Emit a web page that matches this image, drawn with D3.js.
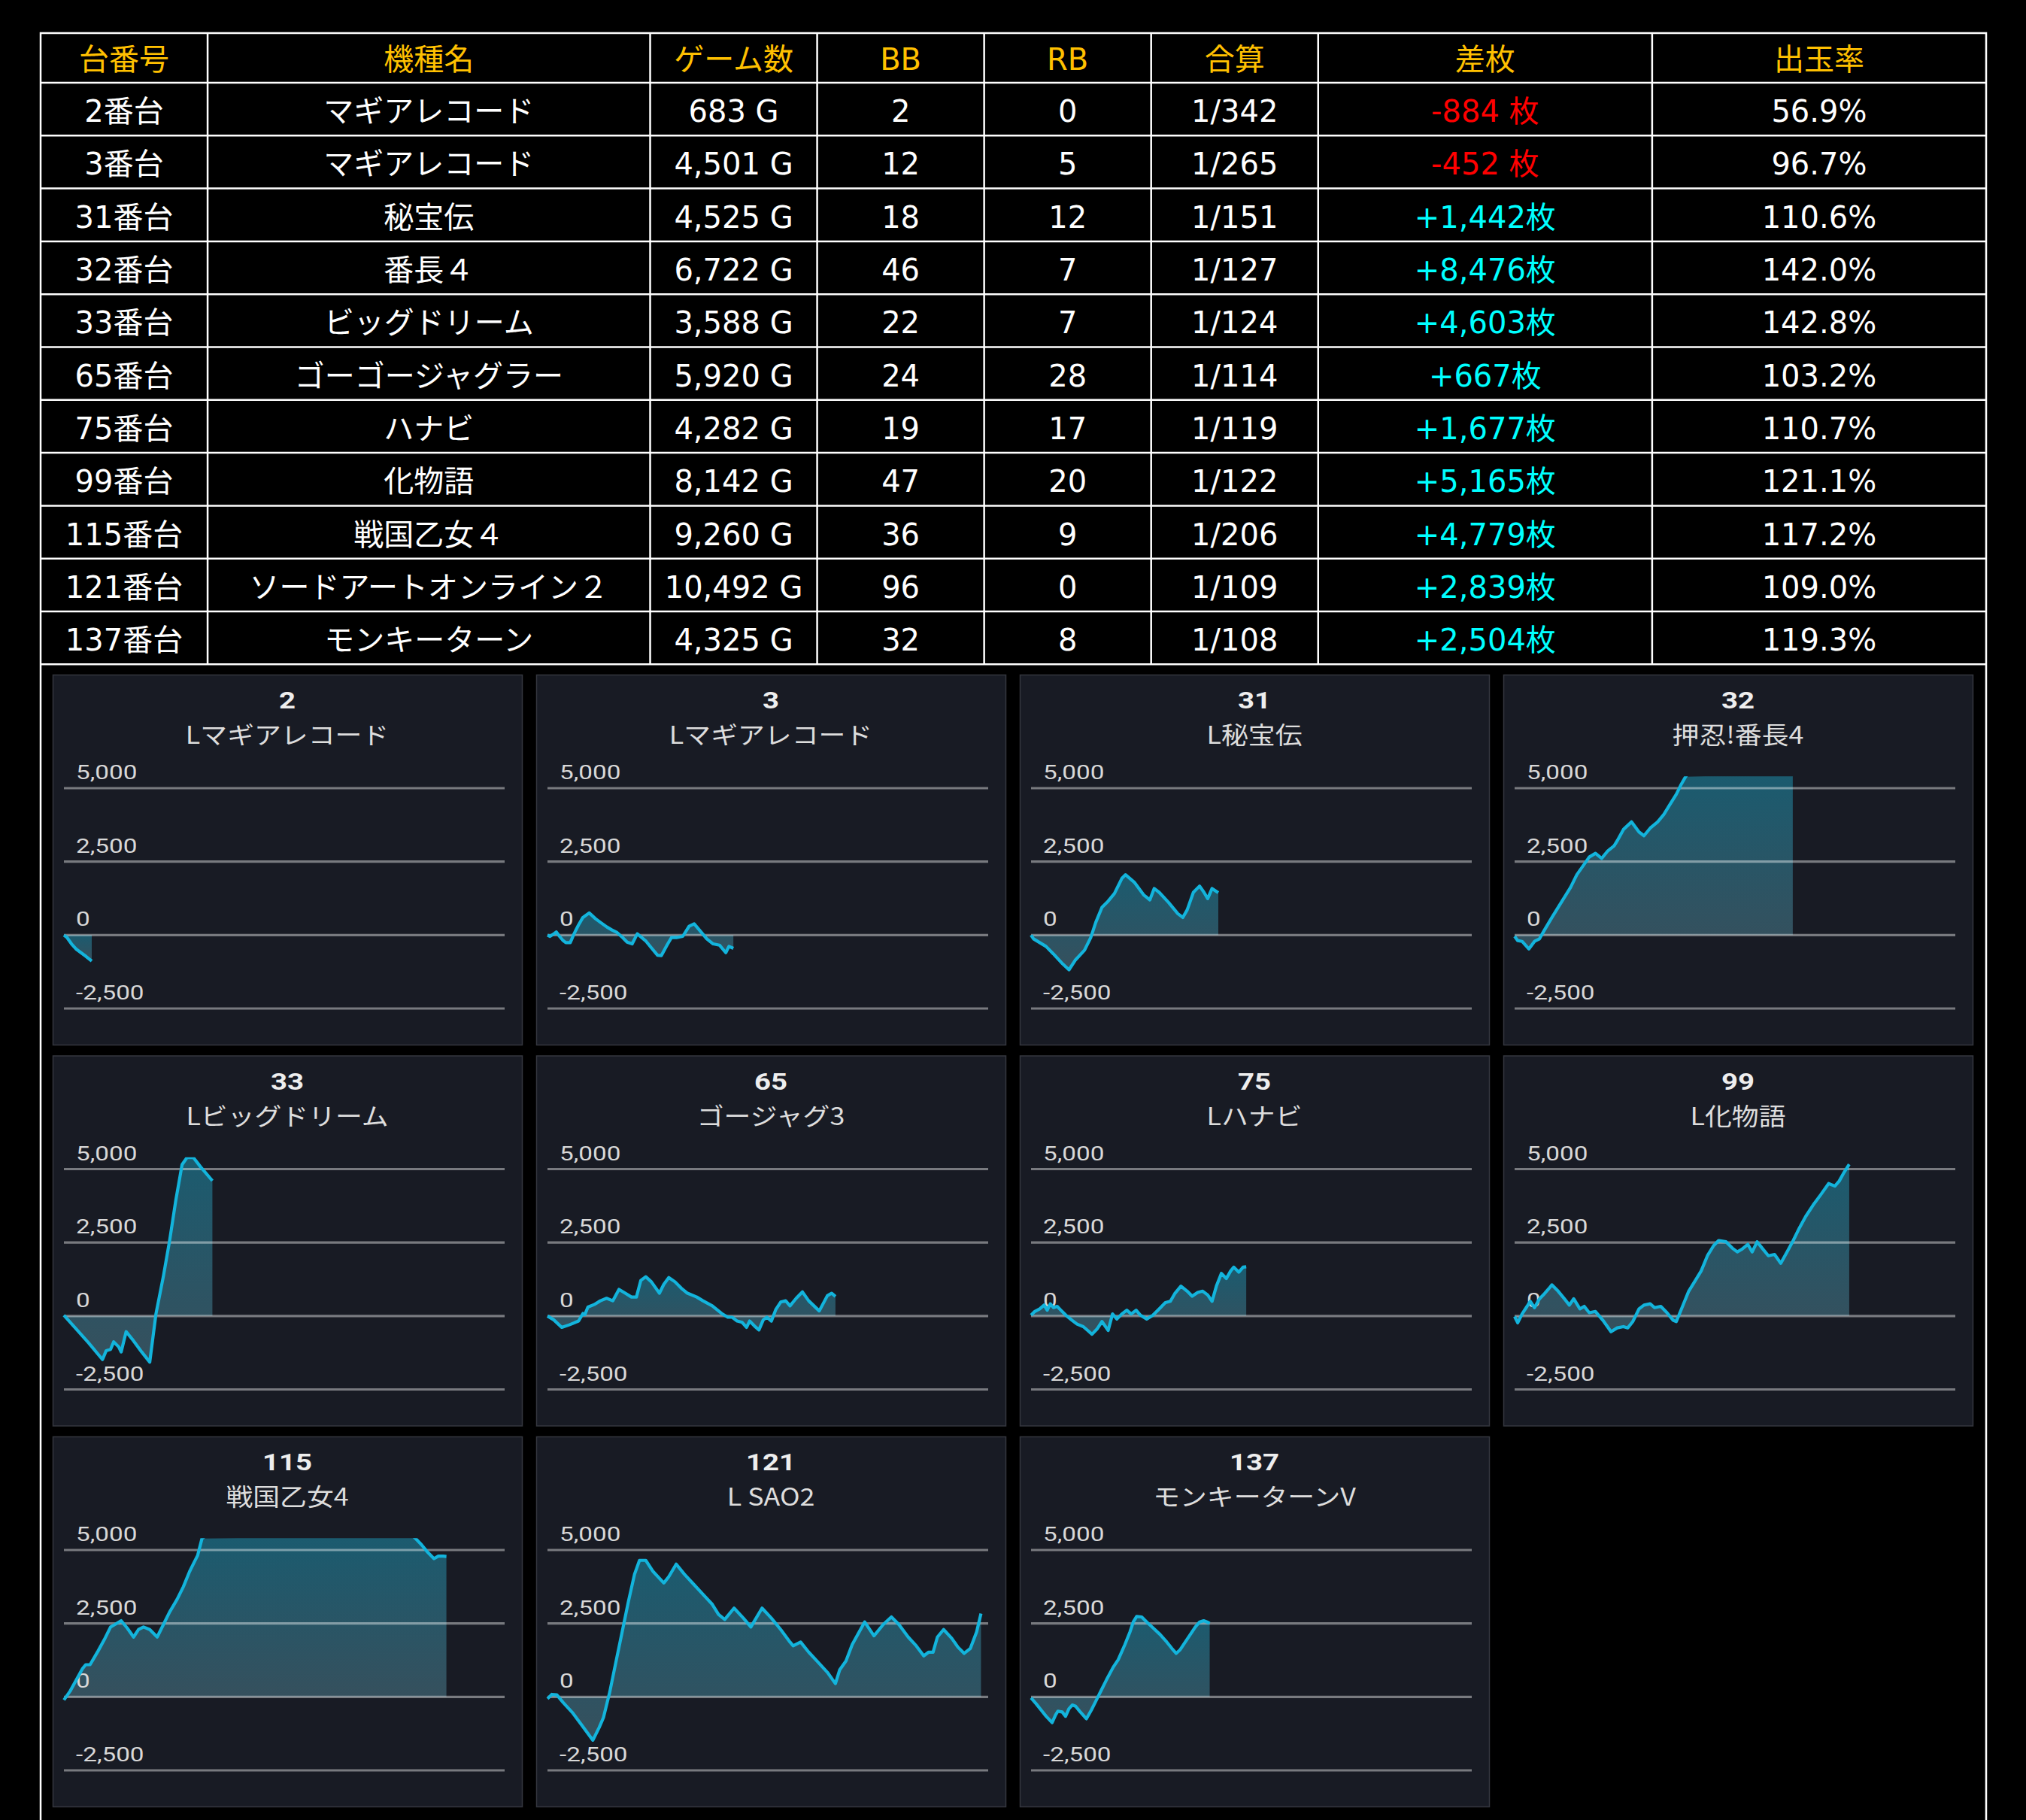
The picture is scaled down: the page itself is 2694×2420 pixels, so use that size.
<!DOCTYPE html>
<html>
<head>
<meta charset="utf-8">
<script src="https://cdn.jsdelivr.net/npm/d3@7"></script>
<style>
  html, body { margin: 0; padding: 0; background: #000; }
  svg { display: block; }
</style>
</head>
<body>
<div id="chart"></div>
<script>
// table data
const headers = ["台番号", "機種名", "ゲーム数", "BB", "RB", "合算", "差枚", "出玉率"];
const machineNo = ["2番台", "3番台", "31番台", "32番台", "33番台", "65番台", "75番台", "99番台", "115番台", "121番台", "137番台"];
const machineName = ["マギアレコード", "マギアレコード", "秘宝伝", "番長４", "ビッグドリーム", "ゴーゴージャグラー", "ハナビ", "化物語", "戦国乙女４", "ソードアートオンライン２", "モンキーターン"];
const games = ["683 G", "4,501 G", "4,525 G", "6,722 G", "3,588 G", "5,920 G", "4,282 G", "8,142 G", "9,260 G", "10,492 G", "4,325 G"];
const bb = [2, 12, 18, 46, 22, 24, 19, 47, 36, 96, 32];
const rb = [0, 5, 12, 7, 7, 28, 17, 20, 9, 0, 8];
const combined = ["1/342", "1/265", "1/151", "1/127", "1/124", "1/114", "1/119", "1/122", "1/206", "1/109", "1/108"];
const diff = ["-884 枚", "-452 枚", "+1,442枚", "+8,476枚", "+4,603枚", "+667枚", "+1,677枚", "+5,165枚", "+4,779枚", "+2,839枚", "+2,504枚"];
const payout = ["56.9%", "96.7%", "110.6%", "142.0%", "142.8%", "103.2%", "110.7%", "121.1%", "117.2%", "109.0%", "119.3%"];

// panel data
const panelIds = ["2", "3", "31", "32", "33", "65", "75", "99", "115", "121", "137"];
const panelNames = ["Lマギアレコード", "Lマギアレコード", "L秘宝伝", "押忍!番長4", "Lビッグドリーム", "ゴージャグ3", "Lハナビ", "L化物語", "戦国乙女4", "L SAO2", "モンキーターンV"];
const yTicks = [5000, 2500, 0, -2500];

// [game, 差枚]
const s2 = [[0,0],[76,-86],[183,-300],[290,-471],[412,-599],[535,-728],[672,-884]];
const s3 = [[0,0],[61,-43],[153,43],[214,103],[290,-43],[367,-171],[443,-257],[550,-257],[642,43],[749,342],[856,599],[1008,753],[1161,556],[1284,428],[1436,274],[1559,171],[1681,86],[1818,-86],[1925,-240],[2047,-300],[2170,43],[2277,-86],[2384,-214],[2506,-428],[2659,-685],[2750,-702],[2888,-342],[2995,-86],[3117,-86],[3270,-43],[3422,300],[3545,385],[3698,128],[3850,-128],[4003,-300],[4156,-342],[4309,-599],[4385,-385],[4492,-452]];
const s31 = [[0,0],[60,-128],[210,-257],[361,-385],[541,-642],[767,-985],[917,-1182],[1067,-856],[1293,-514],[1443,-86],[1563,428],[1713,942],[1864,1156],[2014,1412],[2119,1712],[2194,1926],[2284,2054],[2495,1798],[2720,1370],[2871,1198],[2976,1584],[3096,1455],[3322,1113],[3547,728],[3667,599],[3773,856],[3923,1455],[4073,1669],[4179,1455],[4269,1241],[4374,1584],[4525,1442]];
const s32 = [[0,-43],[75,-188],[180,-214],[346,-471],[481,-214],[601,-128],[721,171],[902,599],[1127,1113],[1353,1626],[1503,2054],[1653,2354],[1803,2654],[1954,2782],[2104,2611],[2254,2868],[2405,3039],[2480,3210],[2630,3595],[2825,3852],[3006,3510],[3126,3381],[3276,3638],[3457,3852],[3607,4109],[3757,4451],[3908,4793],[4028,5136],[4133,5393],[4600,6300],[5200,7100],[5800,7600],[6300,8100],[6722,8476]];
const s33 = [[0,26],[301,-448],[601,-922],[932,-1482],[1022,-1180],[1127,-1138],[1202,-879],[1323,-1051],[1383,-1224],[1503,-534],[1653,-793],[1879,-1224],[2074,-1569],[2224,69],[2405,1362],[2555,2569],[2705,3948],[2856,5154],[2976,5396],[3126,5396],[3307,5068],[3588,4603]];
const s65 = [[0,0],[150,-129],[345,-388],[526,-302],[751,-172],[857,86],[902,43],[977,302],[1127,388],[1278,517],[1428,603],[1578,517],[1728,905],[1879,776],[2029,646],[2149,646],[2254,1207],[2375,1336],[2510,1164],[2705,776],[2811,1078],[2931,1310],[3081,1164],[3232,948],[3382,776],[3607,646],[3757,517],[3983,345],[4208,86],[4359,-43],[4464,-43],[4584,-172],[4704,-216],[4810,-388],[4885,-172],[5005,-345],[5110,-474],[5215,-129],[5305,-43],[5411,-172],[5516,216],[5636,474],[5756,517],[5861,345],[6011,603],[6162,819],[6312,517],[6568,172],[6763,690],[6868,776],[6959,667]];
const s75 = [[0,26],[90,155],[210,241],[315,371],[391,198],[466,414],[541,284],[631,328],[721,198],[842,26],[992,-147],[1112,-276],[1263,-362],[1368,-491],[1473,-621],[1593,-448],[1714,-190],[1864,-491],[1969,69],[2074,-103],[2194,69],[2314,198],[2420,69],[2540,198],[2645,26],[2795,-103],[2946,26],[3096,241],[3246,457],[3367,500],[3472,759],[3622,1017],[3773,845],[3893,672],[4028,802],[4148,845],[4269,715],[4374,500],[4479,1017],[4599,1448],[4720,1276],[4825,1534],[4900,1663],[5020,1491],[5125,1663],[5200,1677]];
const s99 = [[0,-17],[75,-233],[180,69],[301,328],[376,500],[481,284],[601,586],[721,759],[827,931],[902,1060],[1052,845],[1202,586],[1323,371],[1428,586],[1578,241],[1683,328],[1804,112],[1954,155],[2134,-147],[2330,-534],[2480,-405],[2630,-362],[2735,-405],[2856,-190],[3006,241],[3126,371],[3276,414],[3382,284],[3532,328],[3683,112],[3833,-147],[3908,-190],[4058,328],[4208,845],[4359,1189],[4509,1534],[4660,2051],[4810,2396],[4930,2568],[5110,2525],[5261,2310],[5381,2180],[5486,2267],[5636,2439],[5741,2180],[5861,2525],[5982,2310],[6132,2051],[6282,2094],[6432,1793],[6583,2180],[6733,2568],[6883,2999],[7034,3387],[7214,3775],[7394,4120],[7589,4508],[7740,4422],[7845,4594],[7965,4896],[8086,5165]];
const s115 = [[0,-103],[150,197],[301,582],[451,967],[526,1096],[631,1096],[721,1310],[827,1567],[977,1952],[1127,2380],[1233,2465],[1383,2593],[1533,2337],[1683,2037],[1804,2294],[1924,2380],[2074,2294],[2254,2037],[2405,2465],[2555,2893],[2735,3321],[2886,3749],[3036,4263],[3156,4605],[3232,4819],[3337,5393],[4200,6300],[5500,7000],[7000,6800],[8000,6000],[8492,5400],[8642,5179],[8792,4921],[8943,4707],[9048,4793],[9168,4793],[9243,4779]];
const s121 = [[0,-60],[105,86],[226,68],[376,-188],[601,-531],[827,-959],[1097,-1473],[1248,-1045],[1353,-702],[1503,154],[1653,1181],[1804,2209],[1954,3236],[2104,4177],[2224,4648],[2375,4648],[2555,4263],[2811,3878],[2931,4092],[3111,4520],[3307,4177],[3532,3835],[3757,3493],[3983,3150],[4133,2808],[4283,2637],[4509,3022],[4735,2680],[4915,2380],[5185,3022],[5411,2680],[5636,2294],[5861,1866],[5937,1738],[6117,1866],[6312,1524],[6538,1181],[6763,839],[6958,454],[7063,925],[7214,1224],[7364,1781],[7514,2166],[7665,2551],[7890,2080],[8115,2465],[8311,2722],[8491,2465],[8717,2037],[8912,1738],[9093,1396],[9213,1524],[9318,1524],[9423,2037],[9573,2294],[9769,1995],[9919,1695],[10070,1481],[10220,1652],[10370,2209],[10476,2839]];
const s137 = [[0,-34],[122,-231],[243,-445],[365,-659],[510,-873],[592,-616],[648,-488],[753,-514],[834,-659],[915,-402],[996,-274],[1077,-317],[1175,-488],[1337,-745],[1458,-445],[1580,-103],[1701,240],[1823,582],[1985,1010],[2106,1267],[2187,1524],[2268,1781],[2390,2209],[2471,2551],[2552,2739],[2673,2722],[2795,2551],[2957,2337],[3119,2123],[3281,1866],[3402,1652],[3507,1481],[3605,1610],[3726,1866],[3848,2123],[3969,2380],[4074,2551],[4172,2594],[4253,2551],[4317,2504]];
const panelSeries = [s2, s3, s31, s32, s33, s65, s75, s99, s115, s121, s137];

const W = 2694, H = 2420;
const svg = d3.select("#chart").append("svg")
    .attr("width", W)
    .attr("height", H);

const latin = "'DejaVu Sans', 'Noto Sans CJK JP', sans-serif";
const cjk = "'Noto Sans CJK JP', 'DejaVu Sans', sans-serif";
const fmt = d3.formatLocale({decimal: ".", thousands: ",", grouping: [3], currency: ["", ""], minus: "-"}).format(",");

// ---------- table ----------
const tableLeft = 54, tableRight = 2641, tableTop = 44;
const headerH = 66, rowH = 70.3;
const colUnits = [1, 2.65, 1, 1, 1, 1, 2, 2];
const colEdges = [0];
colUnits.forEach(u => colEdges.push(colEdges[colEdges.length - 1] + u));
const xCol = d3.scaleLinear().domain([0, colEdges[colEdges.length - 1]]).range([tableLeft, tableRight]);
const tableBottom = tableTop + headerH + machineNo.length * rowH;

// outer frame (continues behind the charts)
svg.append("rect")
    .attr("x", tableLeft).attr("y", tableTop)
    .attr("width", tableRight - tableLeft).attr("height", H)
    .attr("fill", "none").attr("stroke", "#fff").attr("stroke-width", 2.5);

const grid = svg.append("g").attr("stroke", "#fff").attr("stroke-width", 2.5);
colEdges.slice(1, -1).forEach(e => {
    grid.append("line")
        .attr("x1", xCol(e)).attr("x2", xCol(e))
        .attr("y1", tableTop).attr("y2", tableBottom);
});
d3.range(machineNo.length + 1).forEach(i => {
    const y = tableTop + headerH + i * rowH;
    grid.append("line")
        .attr("x1", tableLeft).attr("x2", tableRight)
        .attr("y1", y).attr("y2", y);
});

const colCenter = i => (xCol(colEdges[i]) + xCol(colEdges[i + 1])) / 2;

svg.append("g").selectAll("text")
    .data(headers)
    .join("text")
    .attr("x", (d, i) => colCenter(i))
    .attr("y", tableTop + headerH / 2 + 16)
    .attr("text-anchor", "middle")
    .attr("font-family", latin)
    .attr("font-size", 40)
    .attr("fill", "#ffc000")
    .text(d => d);

const rows = machineNo.map((d, i) => [machineNo[i], machineName[i], games[i], bb[i], rb[i], combined[i], diff[i], payout[i]]);
const rowG = svg.append("g").selectAll("g")
    .data(rows)
    .join("g")
    .attr("transform", (d, i) => `translate(0,${tableTop + headerH + i * rowH + rowH / 2 + 17})`);

rowG.selectAll("text")
    .data(d => d)
    .join("text")
    .attr("x", (d, i) => colCenter(i))
    .attr("text-anchor", "middle")
    .attr("font-family", latin)
    .attr("font-size", 40)
    .attr("fill", (d, i) => i === 6 ? (String(d).startsWith("-") ? "#ff0000" : "#00ffff") : "#fff")
    .text(d => d);

// ---------- panels ----------
const panelW = 624, panelH = 492;
const panelX = d3.scaleBand().domain(d3.range(4)).range([70, 70 + 643 * 4]);
const panelY = d3.scaleBand().domain(d3.range(3)).range([897, 897 + 506.5 * 3]);

const x = d3.scaleLinear().domain([0, 10650]).range([15, 601]);
const y = d3.scaleLinear().domain([-2500, 5000]).range([444, 151]);
const yMax = 5400;
const yClipTop = y(yMax);

const defs = svg.append("defs");
const grad = defs.append("linearGradient")
    .attr("id", "areaGrad")
    .attr("x1", 0).attr("x2", 0)
    .attr("y1", 0).attr("y2", 1);
grad.append("stop").attr("offset", "0%").attr("stop-color", "#1b5b6f");
grad.append("stop").attr("offset", "100%").attr("stop-color", "#36505d");

defs.append("clipPath").attr("id", "plotClip")
    .append("rect")
    .attr("x", 0).attr("y", yClipTop)
    .attr("width", panelW).attr("height", panelH - yClipTop);

const area = d3.area().x(d => x(d[0])).y0(y(0)).y1(d => y(Math.min(d[1], yMax)));
const line = d3.line().x(d => x(d[0])).y(d => y(d[1]));

const panels = svg.append("g").selectAll("g")
    .data(panelIds)
    .join("g")
    .attr("transform", (d, i) => `translate(${panelX(i % 4)},${panelY(Math.floor(i / 4))})`);

panels.append("rect")
    .attr("x", 0.5).attr("y", 0.5)
    .attr("width", panelW).attr("height", panelH)
    .attr("fill", "#181b24")
    .attr("stroke", "#34373f")
    .attr("stroke-width", 1.5);

panels.append("text")
    .attr("transform", `translate(${panelW / 2},45) scale(1.2,1)`)
    .attr("text-anchor", "middle")
    .attr("font-family", "Roboto, 'Noto Sans', sans-serif")
    .attr("font-weight", "bold")
    .attr("font-size", 32)
    .attr("fill", "#eeeeee")
    .text(d => d);

panels.append("text")
    .attr("transform", `translate(${panelW / 2},92) scale(1.12,1)`)
    .attr("text-anchor", "middle")
    .attr("font-family", cjk)
    .attr("font-size", 32)
    .attr("fill", "#dddddd")
    .text((d, i) => panelNames[i]);

panels.append("path")
    .attr("fill", "url(#areaGrad)")
    .attr("d", (d, i) => area(panelSeries[i]));

panels.each(function() {
    const g = d3.select(this);
    g.selectAll("line.grid")
        .data(yTicks)
        .join("line")
        .attr("class", "grid")
        .attr("x1", x.range()[0]).attr("x2", x.range()[1])
        .attr("y1", d => y(d)).attr("y2", d => y(d))
        .attr("stroke", "rgba(255,255,255,0.42)")
        .attr("stroke-width", 3.2);
    g.selectAll("text.tick")
        .data(yTicks)
        .join("text")
        .attr("class", "tick")
        .attr("transform", d => `translate(${x.range()[0] + 16},${y(d) - 12}) scale(1.28,1)`)
        .attr("font-family", "Roboto, 'Noto Sans', sans-serif")
        .attr("font-size", 26)
        .attr("fill", "#d8d8d8")
        .text(d => fmt(d));
});

panels.append("path")
    .attr("clip-path", "url(#plotClip)")
    .attr("fill", "none")
    .attr("stroke", "#13b4dc")
    .attr("stroke-width", 4.2)
    .attr("stroke-linejoin", "round")
    .attr("d", (d, i) => line(panelSeries[i]));
</script>
</body>
</html>
